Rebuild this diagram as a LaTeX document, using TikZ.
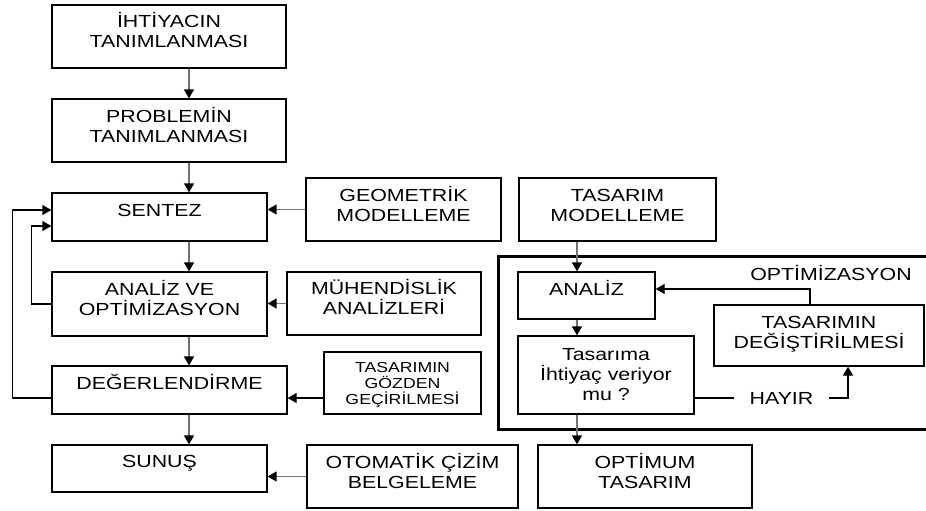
\documentclass[tikz,border=0pt]{standalone}
\usepackage{fontspec}
\setmainfont[FakeStretch=1.22]{Liberation Sans}
\usetikzlibrary{arrows.meta}
\tikzset{%
box/.style args={#1#2}{draw,line width=1.3pt,minimum width=#1,minimum height=#2,
    align=center,inner sep=2pt,text height=13pt,text depth=9.5pt,
    font=\fontsize{17.5}{20}\selectfont},
two/.style={text height=33pt},
three/.style={text height=53pt},
txtup/.style={text depth=#1},
small/.style={font=\fontsize{14.5}{16}\selectfont,text height=43pt},
garr/.style={-{Triangle[length=9pt,width=10pt,color=black]},line width=1.4pt,draw=black!55},
arr/.style={->,line width=1.3pt},
frame/.style={draw,line width=3pt,minimum width=429pt,minimum height=173pt},
}
\begin{document}
\begin{tikzpicture}[x=1pt,y=-1pt,>={Triangle[length=9pt,width=10pt]},
    every node/.append style={font=\fontsize{17.5}{20}\selectfont}]
\useasboundingbox (0,0) rectangle (926,511);
\coordinate (colA) at (189,0);
\coordinate (colB) at (577,0);
% ana akis
\node[box={234pt}{63pt},two,txtup=10.5pt] (ihtiyac) at (169,36.5) {İHTİYACIN\\TANIMLANMASI};
\node[box={234pt}{63pt},two] (problem) at (169,130.5) {PROBLEMİN\\TANIMLANMASI};
\node[box={215pt}{48pt},txtup=14.5pt] (sentez) at (159.5,217) {SENTEZ};
\node[box={215pt}{64pt},two] (analizve) at (159.5,304) {ANALİZ VE\\OPTİMİZASYON};
\node[box={235pt}{48pt},txtup=14.5pt] (deger) at (169.5,390) {DEĞERLENDİRME};
\node[box={215pt}{47pt},txtup=14.5pt] (sunus) at (159.5,468.5) {SUNUŞ};
% yan kutular
\node[box={195pt}{63pt},two,txtup=8.5pt] (geo) at (403.5,209.5) {GEOMETRİK\\MODELLEME};
\node[box={194pt}{63pt},two,txtup=10.5pt] (muh) at (384,303.5) {MÜHENDİSLİK\\ANALİZLERİ};
\node[box={157pt}{62pt},small,txtup=1pt] (gozden) at (402.5,383) {TASARIMIN\\GÖZDEN\\GEÇİRİLMESİ};
\node[box={211pt}{63pt},two] (oto) at (412.5,476.5) {OTOMATİK ÇİZİM\\BELGELEME};
% optimizasyon
\node[box={197pt}{63pt},two,txtup=8.5pt] (tmod) at (617.5,209.5) {TASARIM\\MODELLEME};
\node[frame] (opt) at (712.5,342.5) {};
\node (optlbl) at (831,273) {OPTİMİZASYON};
\node[box={137pt}{47pt},txtup=14pt] (analiz) at (586.5,295.5) {ANALİZ};
\node[box={176pt}{78pt},three,txtup=2pt] (soru) at (606,375) {Tasarıma\\İhtiyaç veriyor\\mu ?};
\node[box={210pt}{61pt},two,txtup=7.5pt] (degis) at (819,335.5) {TASARIMIN\\DEĞİŞTİRİLMESİ};
\node[box={214pt}{63pt},two,txtup=8.5pt] (optimum) at (645,476.5) {OPTİMUM\\TASARIM};
\node[inner xsep=15pt] (hayir) at (781.5,398) {HAYIR};
% oklar
\draw[garr] (ihtiyac.south -| colA) -- (problem.north -| colA);
\draw[garr] (problem.south -| colA) -- (sentez.north -| colA);
\draw[garr] (sentez.south -| colA) -- (analizve.north -| colA);
\draw[garr] (analizve.south -| colA) -- (deger.north -| colA);
\draw[garr] (deger.south -| colA) -- (sunus.north -| colA);
\draw[garr] (geo.west) -- (geo.west -| sentez.east);
\draw[garr] (muh.west) -- (muh.west -| analizve.east);
\draw[arr] ([yshift=-15pt]gozden.west) -- ([yshift=-15pt]gozden.west -| deger.east);
\draw[garr] (oto.west) -- (oto.west -| sunus.east);
\draw[arr] ([yshift=-8pt]deger.west) -| ([xshift=-39pt,yshift=7pt]sentez.west) -- ([yshift=7pt]sentez.west);
\draw[arr] (analizve.west) -| ([xshift=-20pt,yshift=-9pt]sentez.west) -- ([yshift=-9pt]sentez.west);
\draw[garr] (tmod.south -| colB) -- (analiz.north -| colB);
\draw[garr] (analiz.south -| colB) -- (soru.north -| colB);
\draw[garr] (soru.south -| colB) -- (optimum.north -| colB);
\draw[line width=1.3pt] (hayir.west -| soru.east) -- (hayir.west);
\draw[arr] (hayir.east) -| ([xshift=29pt]degis.south);
\draw[arr] ([xshift=-9pt]degis.north) |- ([yshift=6.5pt]analiz.east);
\end{tikzpicture}
\end{document}
